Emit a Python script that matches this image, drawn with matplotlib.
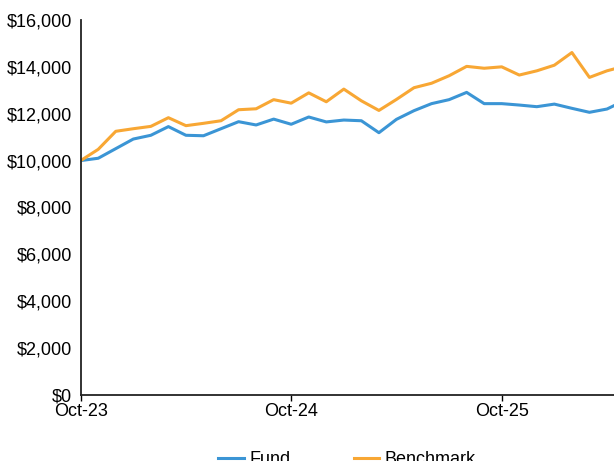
import matplotlib
matplotlib.use("Agg")
import matplotlib.pyplot as plt
from matplotlib.ticker import FuncFormatter

plt.rcParams['font.family'] = ['Liberation Sans', 'DejaVu Sans']
plt.rcParams['font.size'] = 13

# Growth of $10,000, monthly from Oct-23
fund = [10000, 10100, 10510, 10920, 11080, 11450, 11080, 11060, 11360, 11660,
        11520, 11770, 11550, 11860, 11650, 11730, 11700, 11190, 11760, 12130,
        12430, 12600, 12910, 12430, 12430, 12370, 12300, 12410, 12230, 12060,
        12200, 12560]
benchmark = [10000, 10480, 11250, 11360, 11460, 11830, 11490, 11590, 11700, 12170,
             12210, 12600, 12450, 12890, 12510, 13050, 12550, 12140, 12610, 13110,
             13300, 13620, 14020, 13940, 14000, 13650, 13830, 14070, 14610, 13550,
             13830, 14030]
months = list(range(len(fund)))
tick_pos = [0, 12, 24]
tick_labels = ["Oct-23", "Oct-24", "Oct-25"]

fig = plt.figure(figsize=(6.14, 4.61), dpi=100)
ax = fig.add_axes([0.1314, 0.1432, 0.8686, 0.8135])

ax.plot(months, fund, color="#3b95d5", lw=2.2, label="Fund")
ax.plot(months, benchmark, color="#f8a734", lw=2.2, label="Benchmark")

ax.set_xlim(0, 30.4)
ax.set_ylim(0, 16000)
ax.set_yticks(range(0, 16001, 2000))
ax.yaxis.set_major_formatter(FuncFormatter(lambda v, p: "${:,.0f}".format(v)))
ax.set_xticks(tick_pos)
ax.set_xticklabels(tick_labels)
ax.tick_params(axis="y", length=0, pad=6)
ax.tick_params(axis="x", length=4, pad=1.5, width=1)

for s in ["top", "right"]:
    ax.spines[s].set_visible(False)
for s in ["left", "bottom"]:
    ax.spines[s].set_linewidth(1.3)
    ax.spines[s].set_color("#222222")

fig.legend(loc="center", bbox_to_anchor=(0.565, 0.003), ncol=2, frameon=False,
           handlelength=1.4, handletextpad=0.3, columnspacing=3.5)

fig.savefig("out.png", dpi=100)
